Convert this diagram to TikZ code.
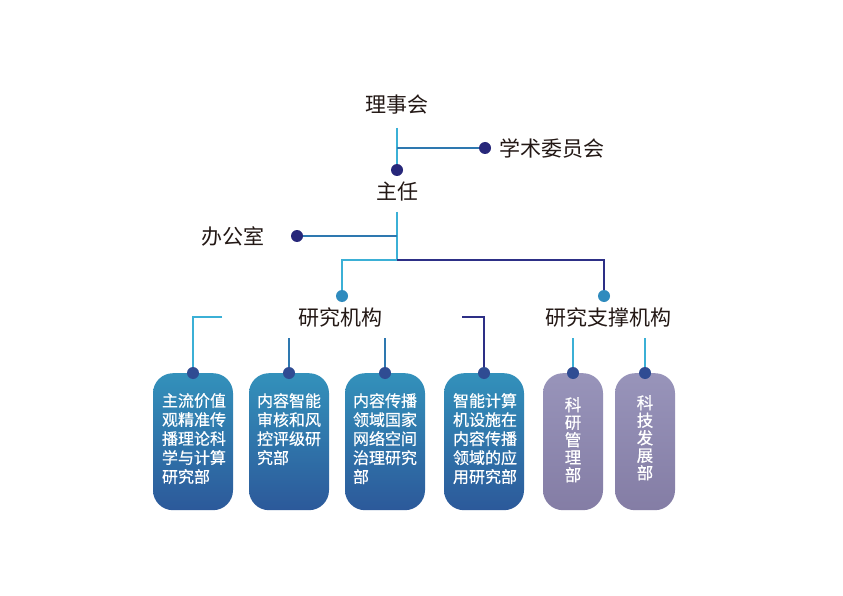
\documentclass[tikz,border=0pt]{standalone}
\usepackage{fontspec}
\setmainfont{Noto Sans CJK SC}
\newfontfamily\boxfont[FakeBold=0.6]{Noto Sans CJK SC}
\usetikzlibrary{positioning}
\definecolor{linecyan}{HTML}{3BB0D6}
\definecolor{linemid}{HTML}{2E78B0}
\definecolor{linenavy}{HTML}{2D2F86}
\definecolor{dotnavy}{HTML}{27277A}
\definecolor{dotteal}{HTML}{2F8BBE}
\definecolor{dotbox}{HTML}{2F4C93}
\definecolor{boxtop}{HTML}{3391BB}
\definecolor{boxbot}{HTML}{2C599A}
\definecolor{purtop}{HTML}{9894BA}
\definecolor{purbot}{HTML}{847DA5}
\definecolor{txt}{HTML}{231815}
\tikzstyle{title} = [text=txt, font=\fontsize{21}{24}\selectfont, inner sep=0pt]
\tikzstyle{dot} = [circle, fill=dotnavy, inner sep=0pt, minimum size=12pt]
\tikzstyle{tealdot} = [dot, fill=dotteal]
\tikzstyle{boxdot} = [dot, fill=dotbox]
\tikzstyle{dept} = [rectangle, rounded corners=20pt, minimum width=80pt, minimum height=137pt, top color=boxtop, bottom color=boxbot, anchor=north]
\tikzstyle{support} = [dept, minimum width=60pt, top color=purtop, bottom color=purbot]
\tikzstyle{depttext} = [text=white, font=\boxfont\fontsize{16}{19}\selectfont, align=left, inner sep=0pt, anchor=north west]
\tikzstyle{supptext} = [text=white, font=\boxfont\fontsize{16.5}{17.5}\selectfont, align=center, inner sep=0pt, anchor=north]
\tikzstyle{line} = [line width=1.5pt, draw=linecyan]

\begin{document}
\begin{tikzpicture}[x=1pt, y=-1pt]
		\useasboundingbox [fill=white] (0,0) rectangle (843,596);
		\node (lsh) [title] at (397,105) {理事会};
		\coordinate (lsh-b) at (397,128);
		\coordinate (j-xs) at (397,148);
		\node (xs-dot) [dot] at (485,148) {};
		\node (xs) [title, right=8pt of xs-dot] {学术委员会};
		\node (zr-dot) [dot] at (397,170) {};
		\node (zr) [title] at (397,192) {主任};
		\coordinate (zr-b) at (397,212);
		\coordinate (j-bg) at (397,236);
		\node (bg-dot) [dot] at (297,236) {};
		\node (bg) [title, left=26pt of bg-dot] {办公室};
		\coordinate (j-split) at (397,260);
		\node (yj-dot) [tealdot] at (342,296) {};
		\node (zc-dot) [tealdot] at (604,296) {};
		\node (yj) [title] at (340,317) {研究机构};
		\node (zc) [title] at (608,317) {研究支撑机构};
		\draw [line] (lsh-b) -- (zr-dot);
		\draw [line, draw=linemid] (j-xs) -- (xs-dot);
		\draw [line] (zr-b) -- (j-split);
		\draw [line, draw=linemid] (j-bg) -- (bg-dot);
		\draw [line] (yj-dot) |- (j-split);
		\draw [line, draw=linenavy] (j-split) -| (zc-dot);

		\node (d1) [dept] at (193,373) {};
		\node (d2) [dept] at (289,373) {};
		\node (d3) [dept] at (385,373) {};
		\node (d4) [dept] at (484,373) {};
		\node (d5) [support] at (573,373) {};
		\node (d6) [support] at (645,373) {};
		\node (t1) [depttext] at ([xshift=9pt, yshift=-20pt]d1.north west) {主流价值\\观精准传\\播理论科\\学与计算\\研究部};
		\node (t2) [depttext] at ([xshift=8pt, yshift=-20pt]d2.north west) {内容智能\\审核和风\\控评级研\\究部};
		\node (t3) [depttext] at ([xshift=8pt, yshift=-20pt]d3.north west) {内容传播\\领域国家\\网络空间\\治理研究\\部};
		\node (t4) [depttext] at ([xshift=9pt, yshift=-20pt]d4.north west) {智能计算\\机设施在\\内容传播\\领域的应\\用研究部};
		\node (t5) [supptext] at ([yshift=-24pt]d5.north) {科\\研\\管\\理\\部};
		\node (t6) [supptext] at ([yshift=-22pt]d6.north) {科\\技\\发\\展\\部};

		\node (d1-dot) [boxdot] at (d1.north) {};
		\node (d2-dot) [boxdot] at (d2.north) {};
		\node (d3-dot) [boxdot] at (d3.north) {};
		\node (d4-dot) [boxdot] at (d4.north) {};
		\node (d5-dot) [boxdot] at (d5.north) {};
		\node (d6-dot) [boxdot] at (d6.north) {};
		\coordinate (yj-l) at (222,317);
		\coordinate (yj-r) at (462,317);
		\coordinate (d2-top) at (289,338);
		\coordinate (d3-top) at (385,338);
		\coordinate (d5-top) at (573,338);
		\coordinate (d6-top) at (645,338);
		\draw [line] (yj-l) -| (d1-dot);
		\draw [line, draw=linemid] (d2-top) -- (d2-dot);
		\draw [line, draw=linemid] (d3-top) -- (d3-dot);
		\draw [line, draw=linenavy] (yj-r) -| (d4-dot);
		\draw [line] (d5-top) -- (d5-dot);
		\draw [line] (d6-top) -- (d6-dot);
	\end{tikzpicture}
\end{document}
